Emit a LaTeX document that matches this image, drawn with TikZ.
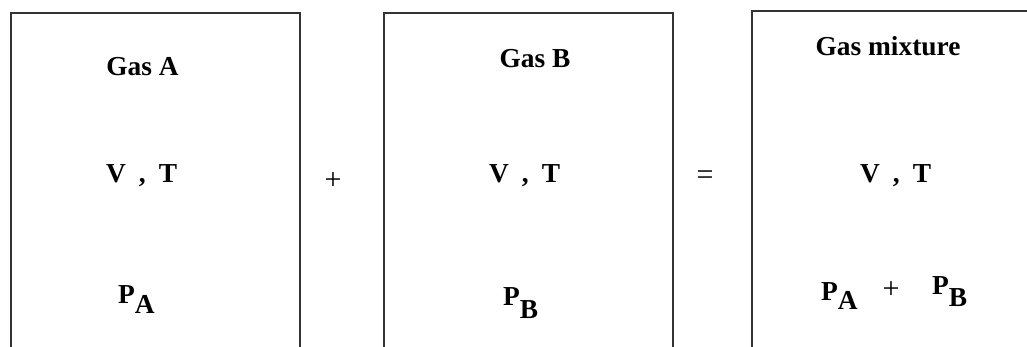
\documentclass[tikz,border=0pt]{standalone}
\usepackage{fontspec}
\setmainfont{Liberation Serif}
\begin{document}
\begin{tikzpicture}[x=1pt,y=-1pt,
  gasbox/.style={draw=black!80,line width=1.8pt,rectangle,inner sep=0pt,anchor=north west,minimum height=420pt},
  lbl/.style={inner sep=0pt,anchor=base,font=\fontsize{27.4}{32}\selectfont\bfseries},
  lblw/.style={inner sep=0pt,anchor=base west,font=\fontsize{27.4}{32}\selectfont\bfseries},
  op/.style={inner sep=0pt,anchor=base,font=\fontsize{30}{34}\selectfont}]
\useasboundingbox (0,0) rectangle (1027,347);
\clip (0,0) rectangle (1027,347);
\fill[white] (0,0) rectangle (1027,347);
% boxes
\node[gasbox,minimum width=289pt] (boxA) at (10,12) {};
\node[gasbox,minimum width=289pt] (boxB) at (383,12) {};
\node[gasbox,minimum width=320pt] (boxM) at (751,10) {};
% titles
\node[lbl] (tA) at (142.5,76) {Gas A};
\node[lbl] (tB) at (535,68) {Gas B};
\node[lbl] (tM) at (888,56) {Gas mixture};
% V , T
\node[lblw] (vtA) at (106,183) {V\hspace{13pt},\hspace{13pt}T};
\node[lblw] (vtB) at (489,183) {V\hspace{13pt},\hspace{13pt}T};
\node[lblw] (vtM) at (860,183) {V\hspace{13pt},\hspace{13pt}T};
% pressures
\node[lblw] (pA) at (118,303) {P\raisebox{-10pt}{A}};
\node[lblw] (pB) at (503,305) {P\raisebox{-13pt}{B}};
\node[lblw] (pMA) at (821,300) {P\raisebox{-9pt}{A}};
\node[op] (plusM) at (891,298) {+};
\node[lblw] (pMB) at (932,294) {P\raisebox{-13pt}{B}};
% operators
\node[op] (plus) at (333,190) {+};
\node[op] (eq) at (705,185) {=};
\end{tikzpicture}
\end{document}
